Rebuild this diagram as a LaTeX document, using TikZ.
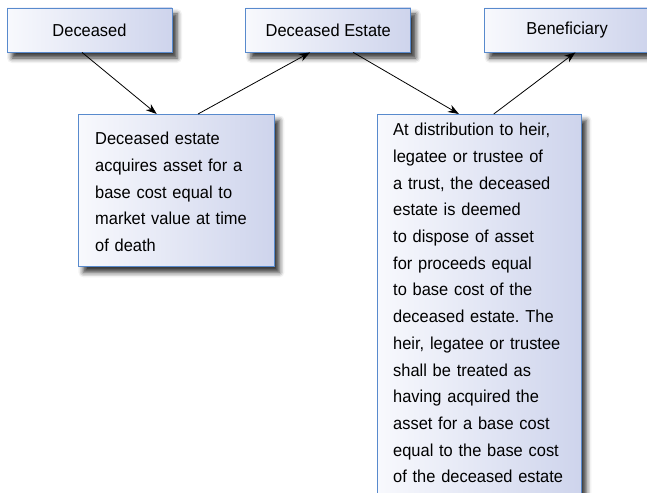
\documentclass[tikz,border=0pt]{standalone}
\usepackage{fontspec}
\setmainfont{Liberation Sans}[FakeStretch=0.95]
\usetikzlibrary{positioning, calc, shadows.blur, arrows.meta}

\definecolor{boxline}{RGB}{88,138,205}
\definecolor{boxlight}{RGB}{248,249,253}
\definecolor{boxdark}{RGB}{206,212,236}

\frenchspacing

\begin{document}
\begin{tikzpicture}[x=1pt, y=1pt]
\tikzset{
    partybox/.style={
        draw=boxline,
        line width=0.8pt,
        left color=boxlight,
        right color=boxdark,
        blur shadow={shadow xshift=5pt, shadow yshift=-6pt,
            shadow blur radius=5pt, shadow opacity=80},
        minimum width=165pt,
        minimum height=44pt,
        font=\fontsize{17.3}{26.7}\selectfont,
    },
    notebox/.style={
        partybox,
        anchor=north west,
    },
    notetext/.style={
        anchor=north west,
        inner sep=0pt,
        align=left,
        font=\fontsize{17.3}{26.7}\selectfont,
    },
    >={Stealth[length=11pt, width=8pt]},
    node distance=73pt and 73pt,
}
\useasboundingbox (0,0) rectangle (647,-492);

    \node[partybox] (deceased) at (89.5,-30) {Deceased};
    \node[partybox] (estate) [right=of deceased] {Deceased Estate};
    \node[partybox] (beneficiary) [right=of estate] {Beneficiary};

    % box below the deceased
    \node[notebox, minimum width=196pt, minimum height=152pt] (acquire) at (78,-114) {};
    \node[notetext, text width=162pt] (acquiretext) at ($(acquire.north west)+(17pt,-18pt)$)
        {Deceased estate\\acquires asset for a\\base cost equal to\\market value at time\\of death};

    % box below the estate, runs off the page
    \node[notebox, minimum width=204pt, minimum height=420pt] (dispose) at (377,-114) {};
    \node[notetext, text width=174pt] (disposetext) at ($(dispose.north west)+(16pt,-9pt)$)
        {At distribution to heir,\\legatee or trustee of\\a trust, the deceased\\estate is deemed\\to dispose of asset\\for proceeds equal\\to base cost of the\\deceased estate. The\\heir, legatee or trustee\\shall be treated as\\having acquired the\\asset for a base cost\\equal to the base cost\\of the deceased estate};

    % arrows
    \begin{scope}[line width=0.8pt]
        \draw[->] ($(deceased.south west)!.455!(deceased.south east)$) -- ($(acquire.north west)!.4!(acquire.north east)$);
        \draw[->] ($(acquire.north west)!.61!(acquire.north east)$) -- ($(estate.south west)!.39!(estate.south east)$);
        \draw[->] ($(estate.south west)!.65!(estate.south east)$) -- ($(dispose.north west)!.4!(dispose.north east)$);
        \draw[->] ($(dispose.north west)!.57!(dispose.north east)$) -- ($(beneficiary.south west)!.55!(beneficiary.south east)$);
    \end{scope}

\end{tikzpicture}
\end{document}
